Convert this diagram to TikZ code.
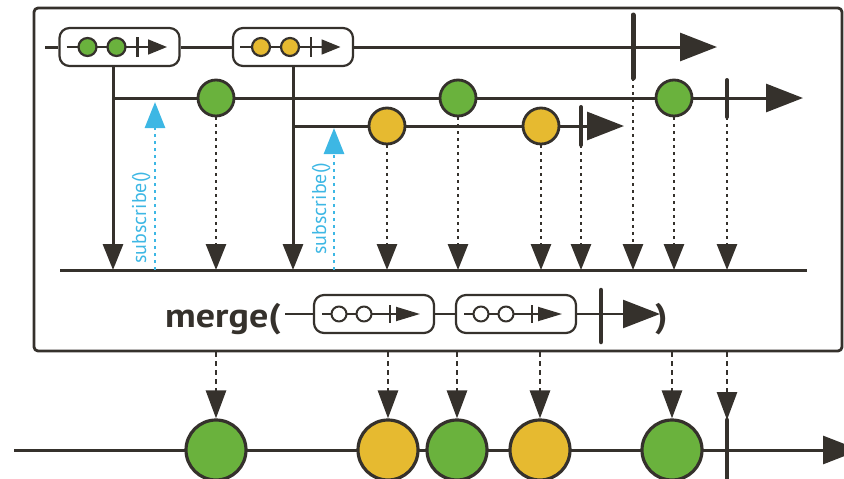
\documentclass[tikz,border=0pt]{standalone}
\usepackage{fontspec}
\setmainfont{PT Sans}
\newfontfamily\mergefont[FakeStretch=1.12]{PT Sans Bold}
\usetikzlibrary{arrows,arrows.meta}
\usetikzlibrary{calc}
\definecolor{ink}{RGB}{53,49,44}
\definecolor{marblegreen}{RGB}{106,178,61}
\definecolor{marbleyellow}{RGB}{230,186,48}
\definecolor{subblue}{RGB}{61,183,228}

\begin{document}
\begin{tikzpicture}[x=1pt, y=-1pt, ink, line join=round,
    stream/.style={line width=3pt},
    bigtip/.style={-{Triangle[length=37pt,width=28pt]}},
    droptip/.style={-{Triangle[length=26pt,width=20pt]}},
    dots/.style={line width=2.8pt, dash pattern=on 3pt off 4pt, droptip},
    dashes/.style={line width=2.8pt, dash pattern=on 5pt off 4pt, -{Triangle[length=28pt,width=20pt]}},
    subcall/.style={subblue, line width=2.8pt, dash pattern=on 3pt off 4pt, droptip},
    sublabel/.style={subblue, rotate=90, anchor=base west, font=\fontsize{20}{20}\selectfont},
    marble/.style={circle, draw=ink, line width=2.8pt, minimum size=36pt, inner sep=0pt},
    bigmarble/.style={marble, line width=3.2pt, minimum size=60pt},
    obsbox/.style={draw, line width=2.2pt, rounded corners=10pt, fill=white, minimum width=120pt, minimum height=38pt},
    endtick/.style={line width=4.5pt, line cap=round}]

	\useasboundingbox (0,0) rectangle (844,479);

	% frame round the merge operator
	\node[draw, line width=2.8pt, rounded corners=4pt, minimum width=808pt, minimum height=343pt, inner sep=0pt] (mergebox) at (438,179.5) {};

	% outer stream with the two inner observables
	\node[obsbox] (box1) at (119.5,47) {};
	\node[obsbox] (box2) at (293,47) {};
	\coordinate (topstart) at (45,47);
	\coordinate (topend) at (717,47);
	\draw[stream] (topstart) -- (box1.west) (box1.east) -- (box2.west);
	\draw[stream, bigtip] (box2.east) -- (topend);
	\draw[endtick, line width=5pt] (633,15) -- (633,78);
	\coordinate (topstop) at (633,78);

	\foreach \bx/\col in {box1/marblegreen, box2/marbleyellow} {
		\draw[line width=1.8pt, -{Triangle[length=19pt,width=15pt]}] ($(\bx)+(-53,0)$) -- ($(\bx)+(47.5,0)$);
		\node[marble, minimum size=18pt, line width=2.2pt, fill=\col] (\bx-a) at ($(\bx)+(-32,0)$) {};
		\node[marble, minimum size=18pt, line width=2.2pt, fill=\col] (\bx-b) at ($(\bx)+(-3,0)$) {};
		\draw[line width=2.2pt] ($(\bx)+(18,-10)$) -- ($(\bx)+(18,10)$);
	}

	% line the merged items land on
	\coordinate (baseL) at (60,270);
	\coordinate (baseR) at (807,270);
	\draw[stream] (baseL) -- (baseR);

	% green stream
	\coordinate (gcorner) at (113,98);
	\draw[stream, droptip] (box1.south -| gcorner) -- (gcorner |- baseL);
	\draw[stream, bigtip] (gcorner) -- (803,98);
	\foreach \x/\n in {216/g1, 458/g2, 674/g3}
		\node[marble, fill=marblegreen] (\n) at (\x,98) {};
	\draw[endtick, line width=4pt] (727,80) -- (727,117);
	\coordinate (gstop) at (727,117);

	% yellow stream
	\coordinate (ycorner) at (293,126);
	\draw[stream, droptip] (box2.south -| ycorner) -- (ycorner |- baseL);
	\draw[stream, bigtip] (ycorner) -- (624,126);
	\foreach \x/\n in {387/y1, 541/y2}
		\node[marble, fill=marbleyellow] (\n) at (\x,126) {};
	\draw[endtick, line width=4pt] (581,107) -- (581,145);
	\coordinate (ystop) at (581,145);

	% subscriptions
	\coordinate (sub1) at (155,102);
	\coordinate (sub2) at (334,128);
	\draw[subcall] (sub1 |- baseL) -- (sub1);
	\draw[subcall] (sub2 |- baseL) -- (sub2);
	\node[sublabel] (subtext1) at (146,267) {subscribe()};
	\node[sublabel] (subtext2) at (326,258) {subscribe()};

	% items falling onto the line
	\foreach \n in {g1,g2,g3,y1,y2}
		\draw[dots] (\n.south) -- (\n.south |- baseL);
	\foreach \n in {topstop,gstop,ystop}
		\draw[dots] (\n) -- (\n |- baseL);

	% merge( ... )
	\node[font=\fontsize{34}{34}\mergefont, anchor=base east, inner sep=0pt] (mergeword) at (281,327) {merge(};
	\node[obsbox] (box3) at (374,314) {};
	\node[obsbox] (box4) at (516,314) {};
	\coordinate (mstart) at (285,314);
	\coordinate (mend) at (660,314);
	\draw[stream, line width=2.4pt] (mstart) -- (box3.west) (box3.east) -- (box4.west);
	\draw[stream, line width=2.4pt, bigtip] (box4.east) -- (mend);
	\draw[endtick] (601,290) -- (601,342);
	\node[font=\fontsize{34}{34}\mergefont, anchor=base west, inner sep=0pt] (mergeclose) at (655,327) {)};

	\foreach \bx in {box3, box4} {
		\draw[line width=1.8pt, -{Triangle[length=24pt,width=14pt]}] ($(\bx)+(-52,0)$) -- ($(\bx)+(46,0)$);
		\node[marble, minimum size=15pt, line width=2pt, fill=white] (\bx-a) at ($(\bx)+(-35,0)$) {};
		\node[marble, minimum size=15pt, line width=2pt, fill=white] (\bx-b) at ($(\bx)+(-10,0)$) {};
		\draw[line width=2.2pt] ($(\bx)+(16,-9)$) -- ($(\bx)+(16,9)$);
	}

	% resulting stream
	\coordinate (outL) at (14,450);
	\coordinate (outR) at (860,450);
	\draw[stream, bigtip] (outL) -- (outR);
	\foreach \x/\n/\col in {216/m1/marblegreen, 388/m2/marbleyellow, 457/m3/marblegreen, 540/m4/marbleyellow, 672/m5/marblegreen}
		\node[bigmarble, fill=\col] (\n) at (\x,450) {};
	\draw[endtick] (727,420) -- (727,490);
	\coordinate (outstop) at (727,420);

	\foreach \n in {m1,m2,m3,m4,m5}
		\draw[dashes] (\n.north |- mergebox.south) -- (\n.north);
	\draw[dashes] (outstop |- mergebox.south) -- (outstop);

\end{tikzpicture}
\end{document}
